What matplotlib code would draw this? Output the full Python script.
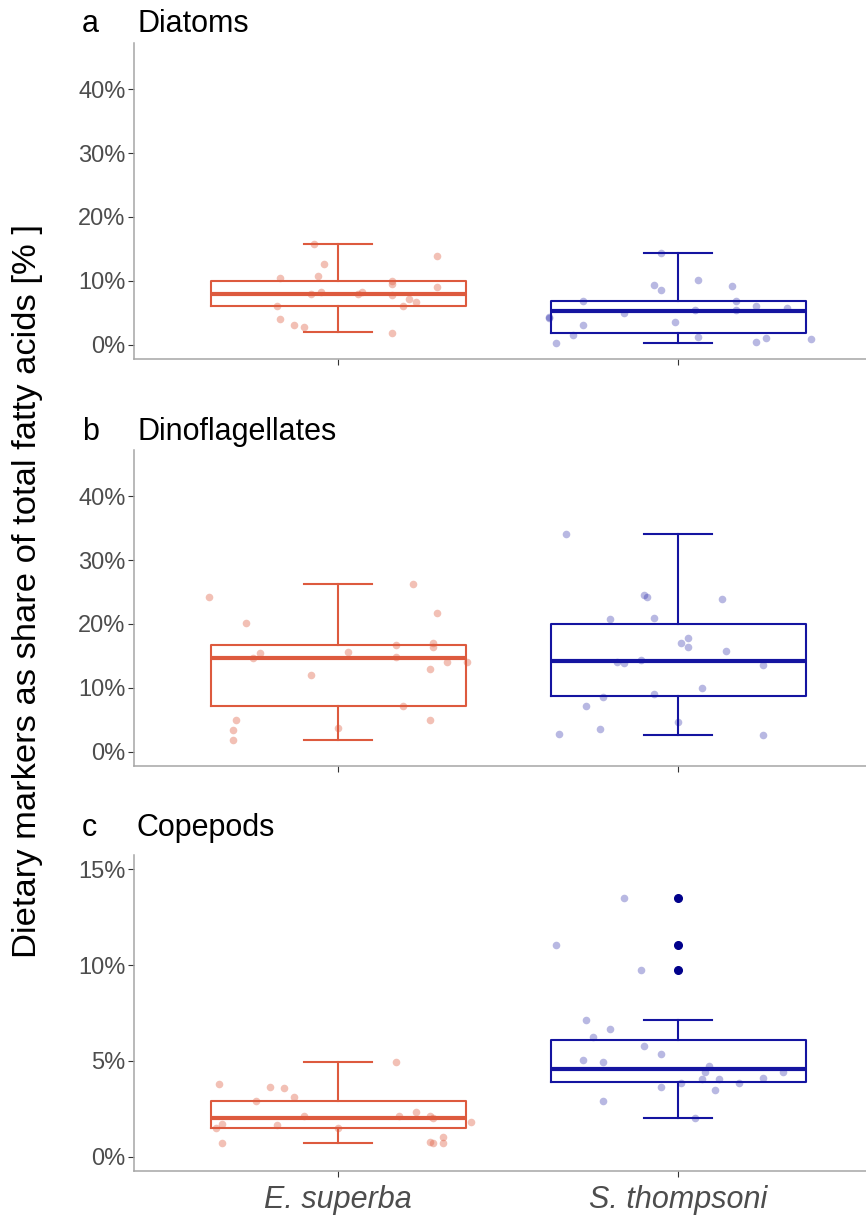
import numpy as np
import matplotlib
matplotlib.use("Agg")
import matplotlib.pyplot as plt
from matplotlib.ticker import PercentFormatter

plt.rcParams["font.family"] = ["Liberation Sans", "DejaVu Sans"]

#
# Data (values in %)
#
species = ["E. superba", "S. thompsoni"]
panel_letters = ["a", "b", "c"]
panel_titles = ["Diatoms", "Dinoflagellates", "Copepods"]

# box stats per panel: [whislo, q1, med, q3, whishi]
diatom_box_es = [2.0, 6.1, 8.0, 10.0, 15.8]
diatom_box_st = [0.3, 1.9, 5.2, 6.9, 14.4]
dino_box_es = [1.9, 7.2, 14.7, 16.7, 26.2]
dino_box_st = [2.6, 8.7, 14.2, 20.0, 34.1]
cope_box_es = [0.70, 1.50, 2.00, 2.89, 4.94]
cope_box_st = [2.02, 3.91, 4.57, 6.10, 7.12]
cope_outliers_st = [13.48, 11.04, 9.73]

# individual samples (value, horizontal jitter offset)
diatom_es = [15.8, 13.9, 12.7, 10.5, 10.8, 10.0, 9.5, 9.0, 8.0, 8.3, 8.3,
             7.9, 7.7, 7.1, 6.7, 6.1, 6.1, 4.0, 3.1, 2.8, 1.9]
diatom_es_jit = [-0.07, 0.29, -0.04, -0.17, -0.06, 0.16, 0.16, 0.29, -0.08, -0.05, 0.07,
                 0.06, 0.16, 0.21, 0.23, -0.18, 0.19, -0.17, -0.13, -0.10, 0.16]
diatom_st = [14.4, 10.2, 9.4, 8.6, 9.2, 6.8, 6.9, 6.1, 5.7, 5.5, 5.5,
             4.9, 4.4, 4.1, 3.6, 3.0, 1.5, 1.2, 1.1, 0.4, 0.3, 0.9]
diatom_st_jit = [-0.05, 0.06, -0.07, -0.05, 0.16, -0.28, 0.17, 0.23, 0.32, 0.05, 0.17,
                 -0.16, -0.38, -0.38, -0.01, -0.28, -0.31, 0.06, 0.26, 0.23, -0.36, 0.39]

dino_es = [24.2, 26.2, 21.7, 20.1, 16.7, 17.0, 16.4, 15.5, 14.7, 15.6, 14.9,
           14.1, 14.1, 12.9, 12.0, 7.2, 4.9, 3.4, 1.9, 3.7, 5.0]
dino_es_jit = [-0.38, 0.22, 0.29, -0.27, 0.17, 0.28, 0.28, -0.23, -0.25, 0.03, 0.17,
               0.32, 0.38, 0.27, -0.08, 0.19, -0.30, -0.31, -0.31, 0.00, 0.27]
dino_st = [34.1, 24.5, 24.2, 23.9, 20.8, 20.9, 17.8, 17.0, 16.4, 15.8, 14.1,
           13.9, 14.3, 13.5, 10.0, 9.1, 8.5, 7.1, 4.6, 3.6, 2.7, 2.6]
dino_st_jit = [-0.33, -0.10, -0.09, 0.13, -0.20, -0.07, 0.03, 0.01, 0.03, 0.14, -0.18,
               -0.16, -0.11, 0.25, 0.07, -0.07, -0.22, -0.27, 0.00, -0.23, -0.35, 0.25]

cope_es = [4.94, 3.80, 3.64, 3.56, 3.09, 2.89, 2.34, 2.11, 2.11, 2.14, 2.00,
           1.81, 1.71, 1.67, 1.48, 1.52, 1.05, 0.75, 0.70, 0.70, 0.70]
cope_es_jit = [0.17, -0.35, -0.20, -0.16, -0.13, -0.24, 0.23, -0.10, 0.18, 0.27, 0.28,
               0.39, -0.34, -0.18, -0.36, 0.00, 0.31, 0.27, 0.28, 0.31, -0.34]
cope_st = [13.48, 11.04, 9.73, 7.13, 6.64, 6.23, 5.76, 5.35, 5.04, 4.95, 4.71,
           4.41, 4.05, 4.06, 3.87, 3.87, 4.13, 4.41, 3.61, 3.49, 2.89, 2.02]
cope_st_jit = [-0.16, -0.36, -0.11, -0.27, -0.20, -0.25, -0.10, -0.05, -0.28, -0.22, 0.09,
               0.08, 0.07, 0.12, 0.01, 0.18, 0.25, 0.31, -0.05, 0.11, -0.22, 0.05]

y_limits = [(0, 45), (0, 45), (0, 15)]
y_ticks = [[0, 10, 20, 30, 40], [0, 10, 20, 30, 40], [0, 5, 10, 15]]

col_es = "#dd5a3e"
col_st = "#1414a0"
col_out = "#00008b"
tick_grey = "#4d4d4d"
axis_grey = "#a6a6a6"

panels = [
    (diatom_box_es, diatom_box_st, [], diatom_es, diatom_es_jit, diatom_st, diatom_st_jit),
    (dino_box_es, dino_box_st, [], dino_es, dino_es_jit, dino_st, dino_st_jit),
    (cope_box_es, cope_box_st, cope_outliers_st, cope_es, cope_es_jit, cope_st, cope_st_jit),
]

W, H = 866, 1219
fig = plt.figure(figsize=(W / 100, H / 100), dpi=100)

ax_left, ax_right = 134, 882
ax_tops = [43, 450, 855]
title_baselines = [32, 440, 836]
ax_h = 316

for i, (box_es, box_st, outl, es, es_j, st, st_j) in enumerate(panels):
    top = ax_tops[i]
    ax = fig.add_axes([ax_left / W, 1 - (top + ax_h) / H, (ax_right - ax_left) / W, ax_h / H])

    ax.scatter(1 + np.array(es_j), es, s=30, color=col_es, alpha=0.38, linewidths=0, zorder=3)
    ax.scatter(2 + np.array(st_j), st, s=30, color=col_st, alpha=0.3, linewidths=0, zorder=3)

    for pos, b, col, fl in [(1, box_es, col_es, []), (2, box_st, col_st, outl)]:
        stats = [dict(whislo=b[0], q1=b[1], med=b[2], q3=b[3], whishi=b[4], fliers=fl)]
        ax.bxp(stats, positions=[pos], widths=0.75, capwidths=0.2, manage_ticks=False,
               boxprops=dict(color=col, linewidth=1.5),
               whiskerprops=dict(color=col, linewidth=1.5),
               capprops=dict(color=col, linewidth=1.5),
               medianprops=dict(color=col, linewidth=3.0),
               flierprops=dict(marker="o", markerfacecolor=col_out, markeredgecolor=col_out,
                               markersize=5.5))

    lo, hi = y_limits[i]
    pad = (hi - lo) * 0.05
    ax.set_ylim(lo - pad, hi + pad)
    ax.set_xlim(0.4, 2.6)
    ax.set_yticks(y_ticks[i])
    ax.yaxis.set_major_formatter(PercentFormatter(decimals=0))
    ax.set_xticks([1, 2])
    if i == 2:
        ax.set_xticklabels(species, fontstyle="italic", fontsize=22, color=tick_grey)
    else:
        ax.set_xticklabels([])
    ax.tick_params(axis="y", labelsize=17, labelcolor=tick_grey, color="#333333",
                   length=4, width=0.8, pad=2)
    ax.tick_params(axis="x", color="#333333", length=4, width=0.8, pad=6)
    for side in ["top", "right"]:
        ax.spines[side].set_visible(False)
    for side in ["left", "bottom"]:
        ax.spines[side].set_color(axis_grey)
        ax.spines[side].set_linewidth(1.1)

    base = title_baselines[i]
    fig.text(82 / W, 1 - base / H, panel_letters[i], fontsize=22, va="baseline", ha="left")
    fig.text(137 / W, 1 - base / H, panel_titles[i], fontsize=22, va="baseline", ha="left")

fig.text(28 / W, 1 - 591 / H, "Dietary markers as share of total fatty acids [% ]",
         rotation=90, fontsize=24.8, va="center", ha="center")

fig.savefig("out.png", dpi=100)
